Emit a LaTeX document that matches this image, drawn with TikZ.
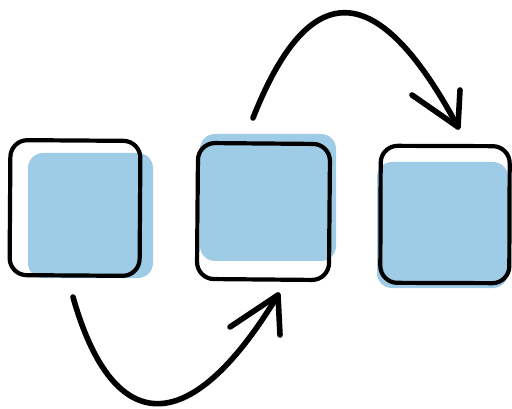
\documentclass[tikz,border=0pt]{standalone}
\definecolor{sky}{RGB}{158,203,229}
\begin{document}
\begin{tikzpicture}[x=1pt,y=-1pt,line cap=round,line join=round,
  fillbox/.style={fill=sky,rounded corners=15pt,inner sep=0pt},
  outbox/.style={draw=black,line width=4.2pt,rounded corners=17pt,inner sep=0pt},
  arrowline/.style={draw=black,line width=5.6pt}]
\useasboundingbox (0,0) rectangle (512,409);
% blue fills
\node[fillbox,minimum width=125pt,minimum height=125pt] (f1) at (90.5,215.5) {};
\node[fillbox,minimum width=136pt,minimum height=127pt] (f2) at (268,197.5) {};
\node[fillbox,minimum width=131pt,minimum height=126pt] (f3) at (442.5,225) {};
% outlines
\node[outbox,minimum width=130pt,minimum height=135pt,rotate=-0.4] (b1) at (75,208) {};
\node[outbox,minimum width=132pt,minimum height=136pt,rotate=-0.5] (b2) at (263.5,211.5) {};
\node[outbox,minimum width=129pt,minimum height=137pt,rotate=-0.2] (b3) at (445,214.5) {};
% lower arrow
\coordinate (s1) at (73,297);
\coordinate (t1) at (278,295);
\coordinate (h1a) at (230,327);
\coordinate (h1b) at (280,335);
\draw[arrowline] (s1) .. controls (111,432) and (186,447) .. (t1);
\draw[arrowline] (h1a) -- (t1) -- (h1b);
% upper arrow
\coordinate (s2) at (253,118);
\coordinate (t2) at (458,127);
\coordinate (h2a) at (412,95);
\coordinate (h2b) at (460,90);
\draw[arrowline] (s2) .. controls (313,-34) and (383,-13) .. (t2);
\draw[arrowline] (h2a) -- (t2) -- (h2b);
\end{tikzpicture}
\end{document}
